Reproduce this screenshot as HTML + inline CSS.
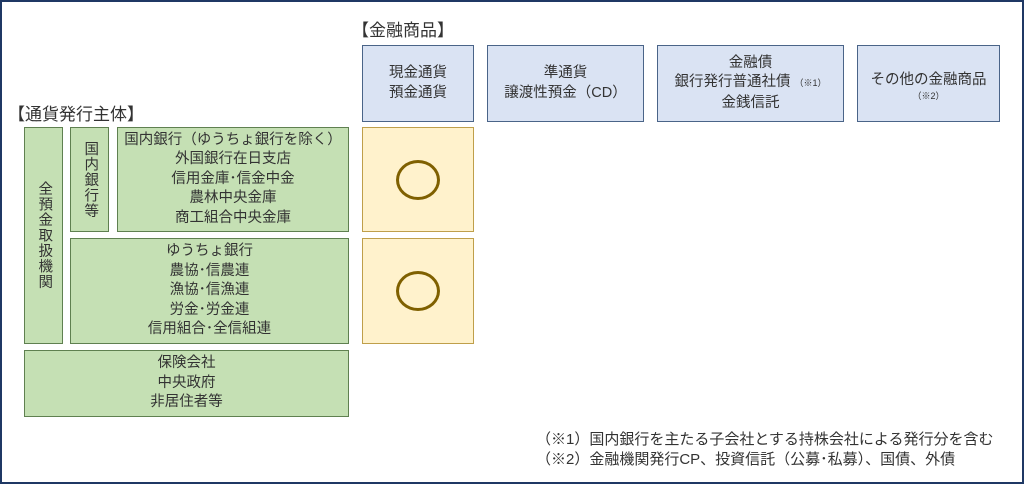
<!DOCTYPE html>
<html><head><meta charset="utf-8"><style>
body{margin:0;width:1024px;height:484px;background:#fff;position:relative;overflow:hidden;font-family:"Liberation Sans","Noto Sans CJK JP",sans-serif;color:#333;}
.frame{position:absolute;left:0;top:0;width:1020px;height:480px;border:2px solid #1f3864;}
.b{position:absolute;box-sizing:border-box;display:flex;flex-direction:column;align-items:center;justify-content:center;text-align:center;font-size:14.5px;line-height:19.5px;}
.blue{background:#dae3f3;border:1.5px solid #4a6488;}
.green{background:#c5e0b4;border:1.5px solid #5f8050;}
.yel{background:#fff2cc;border:1.5px solid #bf9f4a;}
.t{position:absolute;font-size:17px;white-space:nowrap;}
.v{writing-mode:vertical-rl;letter-spacing:1px;}
.s{font-size:9px;}
.circ{width:38px;height:34px;border:3.5px solid #7f6000;border-radius:50%;}
</style></head><body>
<div class="frame"></div>
<div class="t" style="left:352px;top:16px">【金融商品】</div>
<div class="t" style="left:8px;top:100px">【通貨発行主体】</div>
<div class="b blue" style="left:362px;top:45px;width:112px;height:77px">現金通貨<br>預金通貨</div>
<div class="b blue" style="left:487px;top:45px;width:157px;height:77px">準通貨<br>譲渡性預金（CD）</div>
<div class="b blue" style="left:657px;top:45px;width:187px;height:77px">金融債<br><span>銀行発行普通社債 <span class="s">（※1）</span></span>金銭信託</div>
<div class="b blue" style="left:857px;top:45px;width:143px;height:77px"><span style="margin-top:6px">その他の金融商品</span><span class="s" style="line-height:12px">（※2）</span></div>
<div class="b green" style="left:24px;top:127px;width:39px;height:217px"><span class="v">全預金取扱機関</span></div>
<div class="b green" style="left:70px;top:127px;width:39px;height:105px"><span class="v">国内銀行等</span></div>
<div class="b green" style="left:117px;top:127px;width:232px;height:105px">国内銀行（ゆうちょ銀行を除く）<br>外国銀行在日支店<br>信用金庫･信金中金<br>農林中央金庫<br>商工組合中央金庫</div>
<div class="b green" style="left:70px;top:238px;width:279px;height:106px">ゆうちょ銀行<br>農協･信農連<br>漁協･信漁連<br>労金･労金連<br>信用組合･全信組連</div>
<div class="b green" style="left:24px;top:350px;width:325px;height:67px">保険会社<br>中央政府<br>非居住者等</div>
<div class="b yel" style="left:362px;top:127px;width:112px;height:105px"><div class="circ"></div></div>
<div class="b yel" style="left:362px;top:238px;width:112px;height:106px"><div class="circ"></div></div>
<div class="t" style="left:536px;top:428px;font-size:15px">（※1）国内銀行を主たる子会社とする持株会社による発行分を含む</div>
<div class="t" style="left:536px;top:448px;font-size:15px">（※2）金融機関発行CP、投資信託（公募･私募）、国債、外債</div>
</body></html>
